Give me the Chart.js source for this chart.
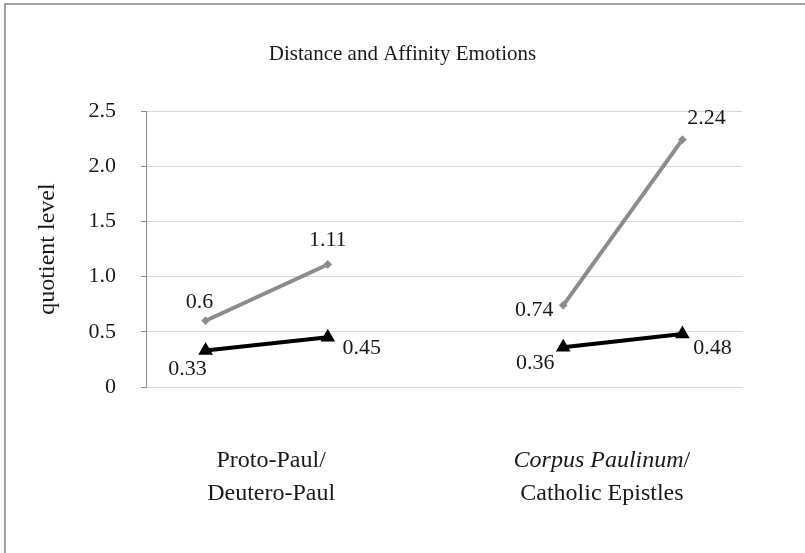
<!DOCTYPE html>
<html>
<head>
<meta charset="utf-8">
<script src="https://cdn.jsdelivr.net/npm/chart.js@4"></script>
<style>
    html, body { margin: 0; padding: 0; background: #fff; }
    #wrap { width: 805px; height: 553px; position: relative; }
</style>
</head>
<body>
<div id="wrap"><canvas id="chart-emotions" width="805" height="553"></canvas></div>
<script>
// Data
const CHART_TITLE = 'Distance and Affinity Emotions';
const Y_TITLE = 'quotient level';
// category labels, *...* = italic part
const categories = [
    ['Proto-Paul/', 'Deutero-Paul'],
    ['*Corpus Paulinum*/', 'Catholic Epistles']
];
const categoryAt = [2.1, 7.65];      // where each category label sits on the x scale
const xSlots = [1, 3.05, 7, 9];      // two points per category
const affinity = [0.6, 1.11, 0.74, 2.24];   // grey diamonds
const distance = [0.33, 0.45, 0.36, 0.48];  // black triangles
const yTicks = [0, 0.5, 1.0, 1.5, 2.0, 2.5];

// label offsets from the point, px (style only)
const affinityLabelOffsets = [[-6, -19], [0, -24], [-29, 5], [24, -21]];
const distanceLabelOffsets = [[-18, 19], [34, 11], [-28, 16], [30, 14]];

const FONT = "'Liberation Serif', 'Times New Roman', serif";
const TEXT_COLOR = '#1a1a1a';

// build points for each series, with a gap between the two categories
function toPoints(values) {
    const pts = [];
    values.forEach((v, i) => {
        if (i === 2) pts.push({ x: (xSlots[1] + xSlots[2]) / 2, y: null });
        pts.push({ x: xSlots[i], y: v });
    });
    return pts;
}

// white background, grey frame on left/top, and the title (centred on the whole canvas)
const frameAndTitle = {
    id: 'frameAndTitle',
    beforeDraw(chart) {
        const ctx = chart.ctx;
        ctx.save();
        ctx.fillStyle = '#fff';
        ctx.fillRect(0, 0, chart.width, chart.height);
        ctx.strokeStyle = '#a3a3a3';
        ctx.lineWidth = 2;
        ctx.beginPath();
        ctx.moveTo(5, chart.height);
        ctx.lineTo(5, 4);
        ctx.lineTo(chart.width, 4);
        ctx.stroke();

        ctx.font = `21px ${FONT}`;
        ctx.fillStyle = TEXT_COLOR;
        ctx.textAlign = 'center';
        ctx.textBaseline = 'middle';
        ctx.fillText(CHART_TITLE, chart.width / 2, 54);
        ctx.restore();
    }
};

const pointLabels = {
    id: 'pointLabels',
    afterDatasetsDraw(chart) {
        const ctx = chart.ctx;
        ctx.save();
        ctx.font = `22px ${FONT}`;
        ctx.fillStyle = TEXT_COLOR;
        ctx.textAlign = 'center';
        ctx.textBaseline = 'middle';
        chart.data.datasets.forEach((ds, di) => {
            const meta = chart.getDatasetMeta(di);
            let k = 0;
            meta.data.forEach((el, j) => {
                const v = ds.data[j].y;
                if (v === null) return;
                const off = ds.labelOffsets[k++];
                ctx.fillText(String(v), el.x + off[0], el.y + off[1]);
            });
        });
        ctx.restore();
    }
};

// category labels under the plot (mixed italic)
const categoryLabels = {
    id: 'categoryLabels',
    afterDraw(chart) {
        const ctx = chart.ctx;
        const xScale = chart.scales.x;
        const base = chart.chartArea.bottom;
        ctx.save();
        ctx.fillStyle = TEXT_COLOR;
        ctx.textBaseline = 'middle';
        ctx.textAlign = 'left';
        categories.forEach((lines, ci) => {
            const cx = xScale.getPixelForValue(categoryAt[ci]);
            lines.forEach((line, li) => {
                const parts = line.split('*').map((t, i) => ({ text: t, italic: i % 2 === 1 })).filter(p => p.text);
                let total = 0;
                parts.forEach(p => {
                    ctx.font = `${p.italic ? 'italic ' : ''}24px ${FONT}`;
                    p.w = ctx.measureText(p.text).width;
                    total += p.w;
                });
                let x = cx - total / 2;
                parts.forEach(p => {
                    ctx.font = `${p.italic ? 'italic ' : ''}24px ${FONT}`;
                    ctx.fillText(p.text, x, base + 74 + li * 33);
                    x += p.w;
                });
            });
        });
        ctx.restore();
    }
};

new Chart(document.getElementById('chart-emotions'), {
    type: 'line',
    data: {
        datasets: [
            {
                label: 'Affinity',
                data: toPoints(affinity),
                labelOffsets: affinityLabelOffsets,
                borderColor: '#8c8c8c',
                backgroundColor: '#8c8c8c',
                borderWidth: 4,
                pointStyle: 'rectRot',
                pointRadius: 4,
                pointBorderColor: '#a0a0a0',
                pointBackgroundColor: '#8a8a8a',
                pointBorderWidth: 1,
                spanGaps: false
            },
            {
                label: 'Distance',
                data: toPoints(distance),
                labelOffsets: distanceLabelOffsets,
                borderColor: '#000',
                backgroundColor: '#000',
                borderWidth: 4,
                pointStyle: 'triangle',
                pointRadius: 4.5,
                pointBorderColor: '#000',
                pointBackgroundColor: '#000',
                spanGaps: false
            }
        ]
    },
    options: {
        responsive: false,
        animation: false,
        layout: { padding: { top: 111, left: 0, right: 63, bottom: 166 } },
        plugins: {
            legend: { display: false },
            tooltip: { enabled: false },
            title: { display: false }
        },
        scales: {
            x: {
                type: 'linear',
                min: 0,
                max: 10,
                display: false
            },
            y: {
                min: 0,
                max: 2.5,
                afterFit(scale) { scale.width = 146; },
                afterBuildTicks(scale) { scale.ticks = yTicks.map(v => ({ value: v })); },
                border: { display: true, color: '#8c8c8c', width: 1 },
                grid: { color: '#d9d9d9', tickColor: '#8c8c8c', tickLength: 5, drawTicks: true },
                ticks: {
                    color: TEXT_COLOR,
                    padding: 25,
                    font: { family: FONT, size: 22 },
                    callback: v => (v === 0 ? '0' : v.toFixed(1))
                },
                title: {
                    display: true,
                    text: Y_TITLE,
                    color: TEXT_COLOR,
                    font: { family: FONT, size: 24 },
                    padding: { top: 33.6, bottom: 0 }
                }
            }
        }
    },
    plugins: [frameAndTitle, pointLabels, categoryLabels]
});
</script>
</body>
</html>
